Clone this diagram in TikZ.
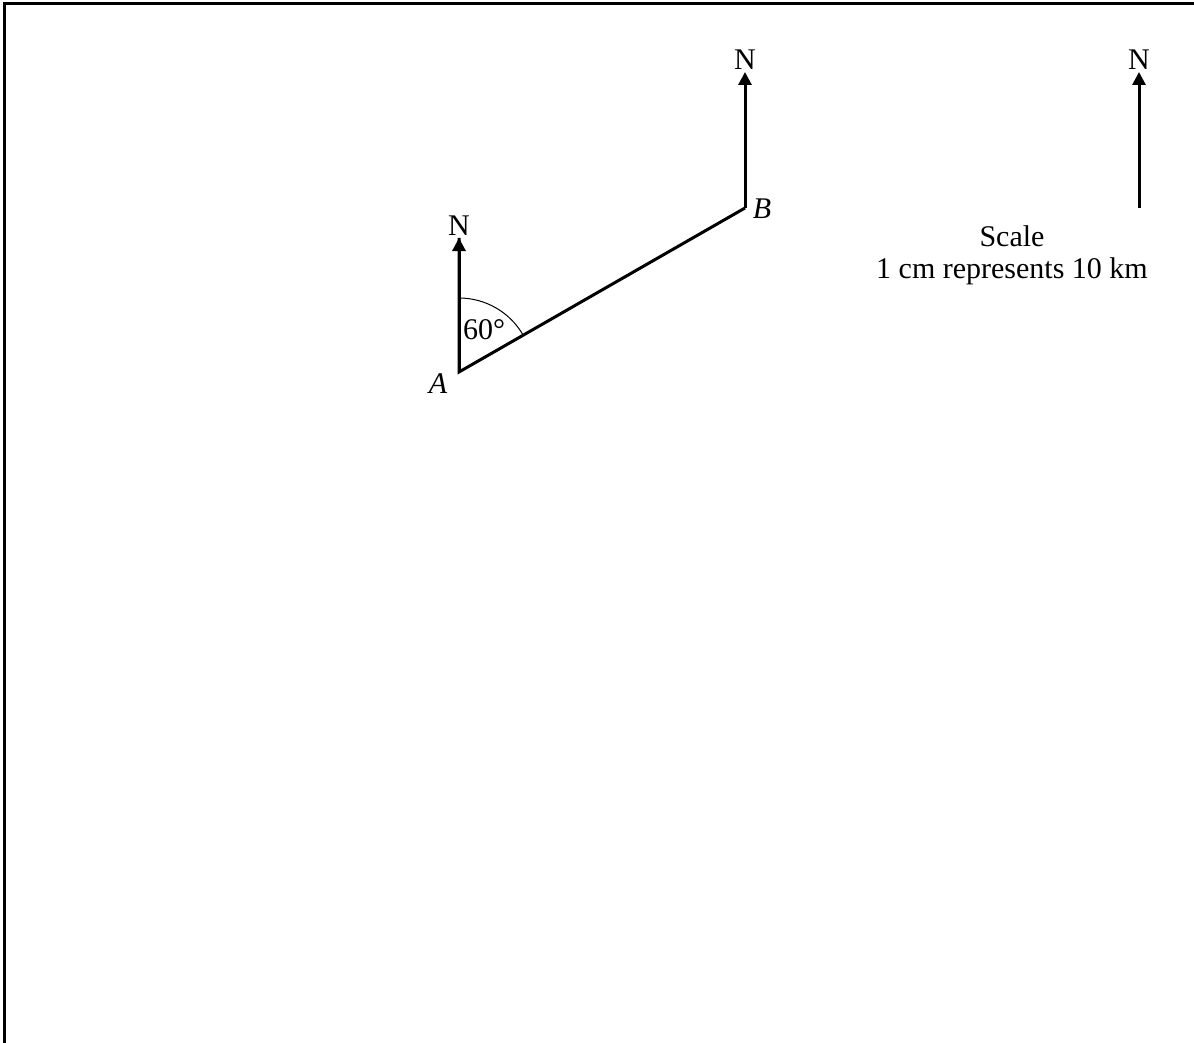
\documentclass[tikz,border=0pt]{standalone}
\usepackage{fontspec}
\setmainfont{Liberation Serif}
\usetikzlibrary{arrows.meta}
\begin{document}
\begin{tikzpicture}[x=1pt,y=-1pt,
  every node/.style={font=\fontsize{30}{32}\selectfont, inner sep=0pt},
  seg/.style={line width=3pt},
  north/.style={line width=3pt,-{Triangle[width=13pt,length=13pt]}}]
\useasboundingbox (0,0) rectangle (1194,1043);
\begin{scope}
\clip (0,0) rectangle (1194,1043);
\draw[line width=3pt] (4,4) rectangle (1220,1070);
\end{scope}
\coordinate (A) at (459,372);
\coordinate (B) at (745,208);
\coordinate (NA) at (459,238);
\coordinate (NB) at (745,72);
\coordinate (S0) at (1139,208);
\coordinate (NS) at (1139,72);
\draw[seg,line join=miter] (NA) -- (A) -- (B);
\draw[north] (A) -- (NA);
\draw[north] (B) -- (NB);
\draw[north] (S0) -- (NS);
\node[anchor=south] (nA) at ([yshift=2pt]NA) {N};
\node[anchor=south] (nB) at ([yshift=2pt]NB) {N};
\node[anchor=south] (nS) at ([yshift=2pt]NS) {N};
\draw[line width=1pt] (A) ++(0,-74) arc[start angle=-90,end angle=-30,radius=74];
\node (ang) at (484,330) {60°};
\node (lA) at (438,384) {\itshape A};
\node (lB) at (762,209) {\itshape B};
\node[align=center] (scale) at (1012,255) {Scale\\1 cm represents 10 km};
\end{tikzpicture}
\end{document}
